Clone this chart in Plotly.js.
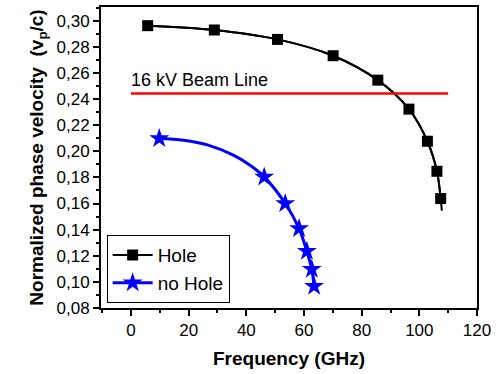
<!DOCTYPE html>
<html><head><meta charset="utf-8">
<script src="https://cdn.plot.ly/plotly-3.0.1.min.js"></script>
<style>html,body{margin:0;padding:0;background:#fff}#chart{width:500px;height:374px}</style>
</head><body><div id="chart"></div>
<script>
// Data
const holeFreq = [5.8, 28.9, 50.8, 70.1, 85.6, 96.4, 102.8, 106.1, 107.4];
const holeV    = [0.2962, 0.2929, 0.2857, 0.2732, 0.2545, 0.2323, 0.2077, 0.1847, 0.1638];
// fitted curve continues slightly past the last point
const holeFitFreq = [5.8, 28.9, 50.8, 70.1, 85.6, 96.4, 102.8, 106.1, 107.4, 107.8];
const holeFitV    = [0.2962, 0.2929, 0.2857, 0.2732, 0.2545, 0.2323, 0.2077, 0.1847, 0.1638, 0.1545];
const noHoleFreq = [9.8, 46.2, 53.5, 58.3, 61.0, 62.7, 63.5];
const noHoleV    = [0.2098, 0.1804, 0.1600, 0.1408, 0.1234, 0.1096, 0.0966];
// fitted curve
const noHoleFitFreq = [9.8, 18.2, 26.8, 35.5, 41.3, 46.2, 53.5, 58.3, 61.0, 62.7, 63.5];
const noHoleFitV    = [0.2098, 0.2085, 0.2047, 0.1970, 0.1893, 0.1804, 0.1600, 0.1408, 0.1234, 0.1096, 0.0966];
const beamFreq = [0, 110];
const beamV    = [0.2443, 0.2443];
const beamLabel = "16 kV Beam Line";

const F = "Arial, 'Liberation Sans', sans-serif";
const traces = [
  {x: holeFitFreq, y: holeFitV, mode: 'lines', line: {color: '#000', width: 2, shape: 'spline'}, showlegend: false, hoverinfo: 'skip'},
  {x: holeFreq, y: holeV, name: 'Hole', mode: 'lines+markers', line: {color: '#000', width: 2, shape: 'spline'},
   marker: {symbol: 'square', size: 11, color: '#000'}},
  {x: noHoleFitFreq, y: noHoleFitV, mode: 'lines', line: {color: '#0000ff', width: 3, shape: 'spline'}, showlegend: false, hoverinfo: 'skip'},
  {x: noHoleFreq, y: noHoleV, mode: 'markers', showlegend: false,
   marker: {symbol: 'star', size: 15, color: '#0000ff'}},
  {x: [null], y: [null], name: 'no Hole', mode: 'lines+markers', line: {color: '#0000ff', width: 3},
   marker: {symbol: 'star', size: 15, color: '#0000ff'}},
  {x: beamFreq, y: beamV, mode: 'lines', line: {color: '#ff0000', width: 2.5}, showlegend: false}
];
const layout = {
  width: 500, height: 374,
  margin: {l: 101, r: 23, t: 7, b: 66},
  paper_bgcolor: '#fff', plot_bgcolor: '#fff',
  separators: ',.',
  font: {family: F, color: '#000', size: 17},
  xaxis: {
    range: [-10.4, 120], dtick: 20, tick0: 0,
    showgrid: false, zeroline: false,
    showline: true, mirror: true, linewidth: 2, linecolor: '#000',
    ticks: 'outside', ticklen: 6, tickwidth: 2, tickcolor: '#000',
    minor: {dtick: 10, ticks: 'outside', ticklen: 3, tickwidth: 2, tickcolor: '#000', showgrid: false},
    tickfont: {size: 17},
    title: {text: '<b>Frequency (GHz)</b>', font: {size: 19}, standoff: 12}
  },
  yaxis: {
    range: [0.08, 0.3105], dtick: 0.02, tick0: 0.08, tickformat: '.2f',
    showgrid: false, zeroline: false,
    showline: true, mirror: true, linewidth: 2, linecolor: '#000',
    ticks: 'outside', ticklen: 6, tickwidth: 2, tickcolor: '#000',
    minor: {dtick: 0.01, ticks: 'outside', ticklen: 3, tickwidth: 2, tickcolor: '#000', showgrid: false},
    tickfont: {size: 17},
    title: {text: '<b>Normalized phase velocity  (v<sub>p</sub>/c)</b>', font: {size: 19}, standoff: 8}
  },
  legend: {x: 0.015, y: 0.016, xanchor: 'left', yanchor: 'bottom', bgcolor: '#fff',
           bordercolor: '#000', borderwidth: 1, font: {size: 19}, tracegroupgap: 0, itemwidth: 40},
  annotations: [{x: 0, y: 0.2545, xref: 'x', yref: 'y', xanchor: 'left', yanchor: 'middle',
                 text: beamLabel, showarrow: false, font: {size: 18}, xshift: -2}]
};
Plotly.newPlot('chart', traces, layout, {displayModeBar: false, staticPlot: true});
</script></body></html>
